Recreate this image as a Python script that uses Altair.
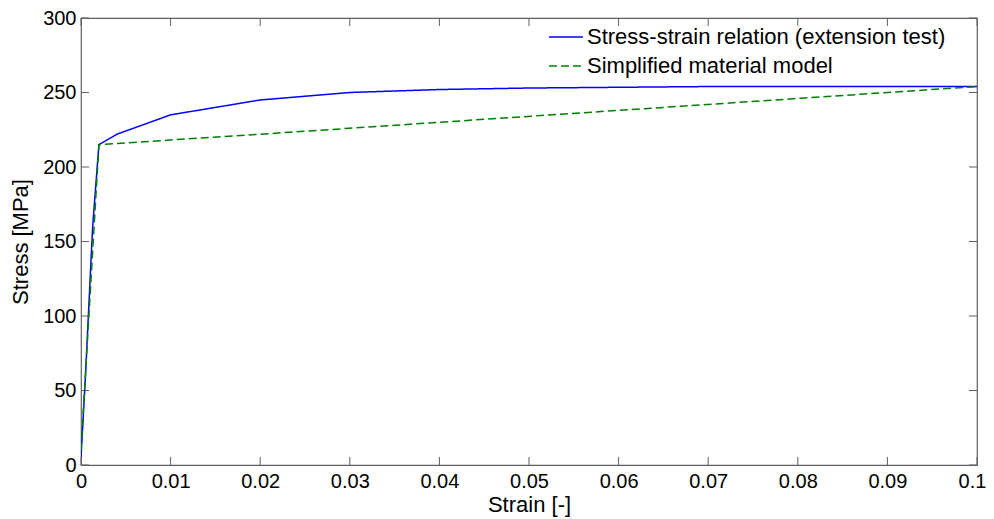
import altair as alt
import pandas as pd

# ---- data ----
blue_label = "Stress-strain relation (extension test)"
green_label = "Simplified material model"

blue_strain = [0.0, 0.0005, 0.0013, 0.002, 0.004, 0.01, 0.02, 0.03, 0.04, 0.05, 0.06, 0.07, 0.08, 0.09, 0.1]
blue_stress = [5, 60, 160, 215, 222, 235, 245, 250, 252, 253, 253.5, 254, 254, 254, 254]

green_strain = [0.0, 0.002, 0.02, 0.1]
green_stress = [10, 215, 222, 254]

x_ticks = [0.0, 0.01, 0.02, 0.03, 0.04, 0.05, 0.06, 0.07, 0.08, 0.09, 0.1]
y_ticks = [0, 50, 100, 150, 200, 250, 300]

W, H = 896, 447
FONT = "Liberation Sans"
FS_LABEL = 20
FS_TITLE = 22
FS_LEGEND = 22
FRAME = "#606060"

rows = []
for i, (s, t) in enumerate(zip(blue_strain, blue_stress)):
    rows.append({"series": blue_label, "strain": s, "stress": t, "i": i})
for i, (s, t) in enumerate(zip(green_strain, green_stress)):
    rows.append({"series": green_label, "strain": s, "stress": t, "i": i})
df = pd.DataFrame(rows)

xscale = alt.Scale(domain=[0, 0.1], nice=False, zero=False)
yscale = alt.Scale(domain=[0, 300], nice=False, zero=False)

legend_opts = dict(title=None, orient="none", legendX=467, legendY=1,
                   symbolType="stroke", symbolSize=1156, symbolStrokeWidth=1.5,
                   labelFont=FONT, labelFontSize=FS_LEGEND, labelColor="black",
                   labelOffset=3, rowPadding=-3, padding=0, labelLimit=0)

lines = alt.Chart(df).mark_line(strokeWidth=1.5, clip=True).encode(
    x=alt.X("strain:Q", scale=xscale,
            axis=alt.Axis(title="Strain [-]", values=x_ticks, format="~g",
                          labelFlush=False, labelOverlap=False,
                          labelOffset={"condition": {"test": "datum.value >= 0.1", "value": -5}, "value": 0},
                          titleX=W / 2, titleY=39, titleBaseline="middle")),
    y=alt.Y("stress:Q", scale=yscale,
            axis=alt.Axis(title="Stress [MPa]", values=y_ticks, labelOverlap=False,
                          titleX=-61, titleY=H / 2, titleBaseline="middle",
                          titleAlign="center")),
    color=alt.Color("series:N",
                    scale=alt.Scale(domain=[blue_label, green_label], range=["#0000ff", "#008000"]),
                    legend=alt.Legend(**legend_opts)),
    strokeDash=alt.StrokeDash("series:N",
                              scale=alt.Scale(domain=[blue_label, green_label], range=[[1, 0], [8, 4]]),
                              legend=alt.Legend(**legend_opts)),
    order="i:Q",
)

xt = pd.DataFrame({"v": x_ticks})
yt = pd.DataFrame({"v": y_ticks})
TL = 8
tick_b = alt.Chart(xt).mark_rule(color=FRAME, strokeWidth=1).encode(
    x=alt.X("v:Q", scale=xscale), y=alt.value(H), y2=alt.value(H - TL))
tick_t = alt.Chart(xt).mark_rule(color=FRAME, strokeWidth=1).encode(
    x=alt.X("v:Q", scale=xscale), y=alt.value(0), y2=alt.value(TL))
tick_l = alt.Chart(yt).mark_rule(color=FRAME, strokeWidth=1).encode(
    y=alt.Y("v:Q", scale=yscale), x=alt.value(0), x2=alt.value(TL))
tick_r = alt.Chart(yt).mark_rule(color=FRAME, strokeWidth=1).encode(
    y=alt.Y("v:Q", scale=yscale), x=alt.value(W), x2=alt.value(W - TL))

chart = alt.layer(tick_b, tick_t, tick_l, tick_r, lines).properties(
    width=W, height=H,
    autosize=alt.AutoSizeParams(type="none"),
    padding={"left": 73, "top": 10, "right": 9, "bottom": 52},
).configure_view(
    stroke=FRAME, strokeWidth=1.2
).configure_axis(
    domain=False, ticks=False, grid=False,
    labelFont=FONT, labelFontSize=FS_LABEL, labelColor="black",
    titleFont=FONT, titleFontSize=FS_TITLE, titleColor="black", titleFontWeight="normal",
).configure_axisX(
    labelPadding=6,
).configure_axisY(
    labelPadding=5,
)

chart.save("out.html", embed_options={"renderer": "svg", "actions": False})
